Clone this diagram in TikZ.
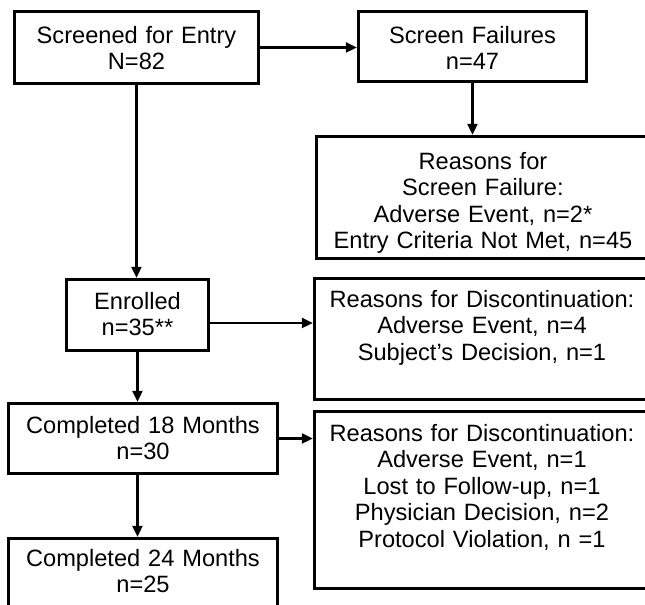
\documentclass[tikz,border=0pt]{standalone}
\usepackage{fontspec}
\setmainfont{Liberation Sans}
\usetikzlibrary{arrows.meta}
\newlength\pxu
\setlength\pxu{0.025cm}

\begin{document}
\begin{tikzpicture}[x=0.025cm, y=-0.025cm, >={Triangle[length=8pt,width=7pt]}, line width=1.9pt,
  box/.style n args={3}{draw, line width=2.1pt, anchor=north west, inner sep=0pt, align=center,
    text width=#1\pxu, text height=#2\pxu, text depth=#3\pxu,
    font=\fontsize{16.8}{18.8}\selectfont}]
  \useasboundingbox (0,0) rectangle (645,605);
  \clip (0,0) rectangle (645,605);

  % left column
  \node[box={244}{32}{40}] (scr) at (13,10) {Screened for Entry\\N=82};
  \node[box={142}{30}{41}] (enr) at (65,278) {Enrolled\\n=35**};
  \node[box={269}{30}{40}] (m18) at (7,402) {Completed 18 Months\\n=30};
  \node[box={269}{28}{80}] (m24) at (7,537) {Completed 24 Months\\n=25};

  % right column
  \node[box={228}{32}{38}] (sf) at (357,10) {Screen Failures\\n=47};
  \node[box={333}{33}{89}] (rsf) at (315,135)
    {Reasons for\\Screen Failure:\\Adverse Event, n=2*\\Entry Criteria Not Met, n=45};
  \node[box={335}{29}{92}] (dc1) at (313,277)
    {Reasons for Discontinuation:\\Adverse Event, n=4\\Subject's Decision, n=1};
  \node[box={335}{30}{147}] (dc2) at (313,410)
    {Reasons for Discontinuation:\\Adverse Event, n=1\\Lost to Follow-up, n=1\\Physician Decision, n=2\\Protocol Violation, n =1};

  % arrows
  \draw[->] (scr.east) -- (scr.east -| sf.west);
  \draw[->] (sf.south) -- (sf.south |- rsf.north);
  \draw[->] (scr.south) -- (scr.south |- enr.north);
  \draw[->] ([yshift=-8\pxu]enr.east) -- ([yshift=-8\pxu]enr.east -| dc1.west);
  \draw[->] (enr.south) -- (enr.south |- m18.north);
  \draw[->] (m18.east) -- (m18.east -| dc2.west);
  \draw[->] (enr.south |- m18.south) -- (enr.south |- m24.north);
\end{tikzpicture}
\end{document}
